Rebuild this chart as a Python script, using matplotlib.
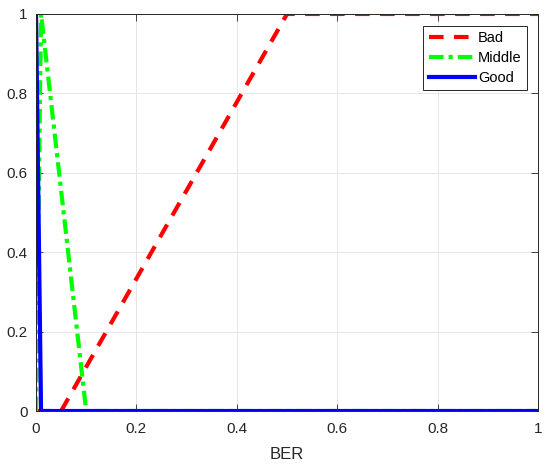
import matplotlib
matplotlib.use('Agg')
import matplotlib.pyplot as plt

plt.rcParams['font.family'] = ['Liberation Sans', 'DejaVu Sans']

# data
bad_x = [0, 0.05, 0.5, 1]
bad_y = [0, 0, 1, 1]
mid_x = [0, 0.01, 0.1, 1]
mid_y = [0, 1, 0, 0]
good_x = [0, 0.01, 1]
good_y = [1, 0, 0]

xticks = [0, 0.2, 0.4, 0.6, 0.8, 1]
yticks = [0, 0.2, 0.4, 0.6, 0.8, 1]

fig = plt.figure(figsize=(5.5, 4.66), dpi=100)
ax = fig.add_axes([0.0655, 0.118, 0.9125, 0.852])

ax.plot(bad_x, bad_y, color='red', linestyle=(0, (3.5, 2.5)), linewidth=3, label='Bad')
ax.plot(mid_x, mid_y, color='#00ff00', linestyle=(0, (3.5, 1.2, 1, 1.2)), linewidth=3, label='Middle')
ax.plot(good_x, good_y, color='blue', linestyle='-', linewidth=3, label='Good')

ax.set_xlim(0, 1)
ax.set_ylim(0, 1)
ax.set_xticks(xticks)
ax.set_yticks(yticks)
ax.set_xticklabels(['0', '0.2', '0.4', '0.6', '0.8', '1'])
ax.set_yticklabels(['0', '0.2', '0.4', '0.6', '0.8', '1'])
ax.tick_params(direction='in', length=5, width=0.6, labelsize=11, top=True, right=True, colors='#262626')
ax.tick_params(axis='x', pad=8)
ax.tick_params(axis='y', pad=6)
ax.grid(True, color='#e6e6e6', linewidth=0.7)
ax.set_axisbelow(True)
for s in ax.spines.values():
    s.set_linewidth(0.7)
    s.set_color('#262626')

ax.set_xlabel('BER', fontsize=12, color='#262626', labelpad=8)

leg = ax.legend(loc='upper right', bbox_to_anchor=(0.978, 0.970), fontsize=10.5, fancybox=False,
                handlelength=3.2, handletextpad=0.2, framealpha=1, borderpad=0.35,
                labelspacing=0.42, borderaxespad=0)
leg.get_frame().set_edgecolor('#262626')
leg.get_frame().set_linewidth(0.7)

fig.savefig('out.png', dpi=100)
